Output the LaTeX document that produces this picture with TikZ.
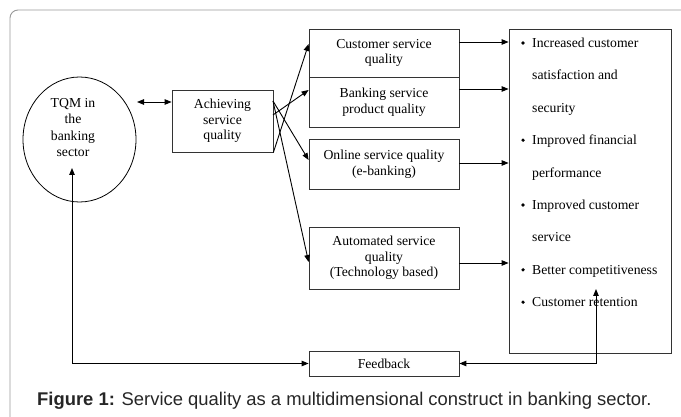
\documentclass[tikz,border=0pt]{standalone}
\usepackage{fontspec}
\setmainfont{Liberation Serif}
\newfontfamily\capfont{Liberation Sans}
\usetikzlibrary{arrows.meta,calc,shapes.geometric}

\tikzset{
  box/.style={draw=black!80, line width=0.8pt, minimum width=150pt, align=center,
              inner sep=0pt, font=\fontsize{13.7}{15.5}\selectfont},
  arr/.style={line width=0.9pt, -{Triangle[length=7pt,width=5.5pt]}},
  biarr/.style={line width=0.9pt, {Triangle[length=7pt,width=5.5pt]}-{Triangle[length=7pt,width=5.5pt]}},
  item/.style={anchor=base west, inner sep=0pt, font=\fontsize{13.7}{15.5}\selectfont},
  dot/.style={circle, fill=black, inner sep=0pt, minimum size=3.6pt},
}

\begin{document}
\begin{tikzpicture}[x=1pt, y=-1pt]
\useasboundingbox (0,0) rectangle (681,417);

% outer frame, cut at the right and bottom
\draw[black!40, line width=0.9pt, rounded corners=8pt] (10,420) -- (10,10) -- (684,10);

% TQM ellipse
\node[draw=black, line width=0.8pt, ellipse, minimum width=113pt, minimum height=125pt, inner sep=0pt]
  (tqm) at (79.5,139.5) {};
\node[align=center, inner sep=0pt, font=\fontsize{13.7}{16.3}\selectfont] (tqmtxt) at (73,127.5)
  {TQM in\\the\\banking\\sector};

% centre box
\node[box, minimum width=101pt, minimum height=62pt] (ach) at (222.5,121)
  {Achieving\\service\\quality};

% four quality dimensions
\node[box, minimum height=48pt] (cust) at (384,53) {Customer service\\quality};
\node[box, minimum height=50pt] (bank) at (384,102) {Banking service\\product quality};
\node[box, minimum height=50pt] (onl) at (384,164) {Online service quality\\(e-banking)};
\node[box, minimum height=62pt] (auto) at (384,258) {Automated service\\quality\\(Technology based)};
\node[box, minimum height=25pt] (fb) at (384,363.5) {Feedback};

% outcomes
\node[draw=black!80, line width=0.8pt, minimum width=162pt, minimum height=324pt, inner sep=0pt]
  (out) at (590,191) {};

\foreach \t [count=\i from 0] in {Increased customer, satisfaction and, security,
    Improved financial, performance, Improved customer, service,
    Better competitiveness, Customer retention} {
  \node[item] (it\i) at (532,{47.5+32.4*\i}) {\t};
}
\foreach \i in {0,3,5,7,8} {
  \node[dot] (b\i) at ($(it\i.base west)+(-9,-4.5)$) {};
}

% TQM <-> achieving
\coordinate (tqmR) at (137,102);
\draw[biarr] (tqmR) -- (ach.west |- tqmR);

% fan-out from the centre box
\coordinate (a1) at (ach.south east);
\coordinate (a2) at (273,115);
\coordinate (a3) at (273,101);
\draw[arr] (a1) -- (cust.west |- 0,44);
\draw[arr] (a2) -- (bank.west |- 0,90);
\draw[arr] (a3) -- (onl.west |- 0,160);
\draw[arr] (a3) -- (auto.west |- 0,262);

% dimensions -> outcomes
\draw[arr] (cust.east |- 0,42) -- (out.west |- 0,42);
\draw[arr] (bank.east |- 0,89) -- (out.west |- 0,89);
\draw[arr] (onl.east |- 0,163) -- (out.west |- 0,163);
\draw[arr] (auto.east |- 0,263) -- (out.west |- 0,263);

% feedback loop
\coordinate (tqmIn) at (72,168);
\coordinate (retIn) at (596,289);
\draw[biarr] (tqmIn) |- (fb.west);
\draw[biarr] (fb.east) -| (retIn);

% caption
\node[anchor=base west, inner sep=0pt, text=black!85, font=\capfont\fontsize{18.4}{20}\selectfont]
  (cap) at (37,405.5) {\textbf{Figure 1:} Service quality as a multidimensional construct in banking sector.};
\end{tikzpicture}
\end{document}
